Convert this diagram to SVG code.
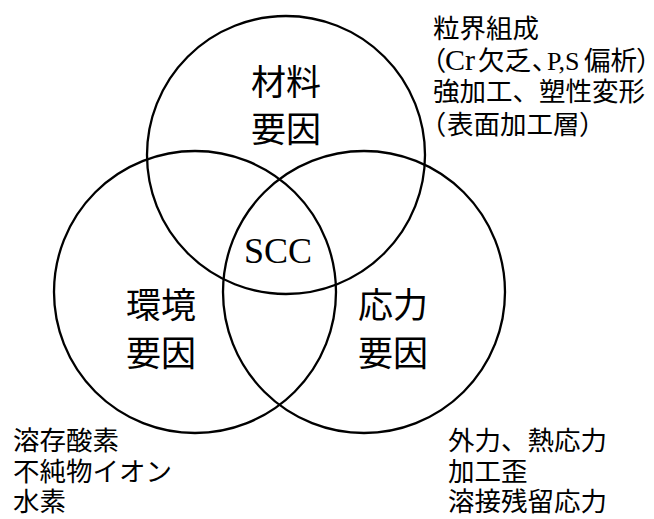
<svg xmlns="http://www.w3.org/2000/svg" width="654" height="519" viewBox="0 0 654 519">
<style>
.c{fill:none;stroke:#000;stroke-width:2.3}
.lb{font-family:"Noto Sans CJK JP","Noto Sans CJK SC",sans-serif;font-size:35px;fill:#000;text-anchor:middle}
.t{font-family:"Noto Sans CJK JP","Noto Sans CJK SC",sans-serif;font-size:26.5px;fill:#000}
.p{font-feature-settings:"palt"}
.s{font-family:"Liberation Serif",serif;fill:#000}
.scc{font-family:"Liberation Serif",serif;font-size:36px;fill:#000;text-anchor:middle}
</style>
<rect width="654" height="519" fill="#fff"/>
<g id="circles">
<circle class="c" cx="286" cy="155" r="139"/>
<circle class="c" cx="195" cy="292" r="141"/>
<circle class="c" cx="364" cy="292" r="141"/>
</g>
<g id="material">
<text class="lb" x="286" y="95">材料</text>
<text class="lb" x="286" y="142">要因</text>
</g>
<g id="environment">
<text class="lb" x="161" y="318">環境</text>
<text class="lb" x="161" y="366">要因</text>
</g>
<g id="stress">
<text class="lb" x="393" y="318">応力</text>
<text class="lb" x="393" y="366">要因</text>
</g>
<g id="scc">
<text class="scc" x="278" y="263">SCC</text>
</g>
<g id="material-notes">
<text class="t" x="433" y="38">粒界組成</text>
<text class="t" y="70"><tspan class="p" x="432">（</tspan><tspan class="s" font-size="30" x="445">Cr</tspan><tspan x="478">欠乏</tspan><tspan class="p" x="532">、</tspan><tspan class="s" font-size="26" x="547">P,S</tspan><tspan x="584">偏析</tspan><tspan class="p" x="637">）</tspan></text>
<text class="t" x="433" y="101">強加工、塑性変形</text>
<text class="t" y="134"><tspan class="p" x="432">（</tspan><tspan x="447">表面加工層</tspan><tspan class="p" x="580">）</tspan></text>
</g>
<g id="environment-notes">
<text class="t" x="13" y="450">溶存酸素</text>
<text class="t" x="13" y="481">不純物イオン</text>
<text class="t" x="13" y="511">水素</text>
</g>
<g id="stress-notes">
<text class="t" x="448" y="450">外力、熱応力</text>
<text class="t" x="448" y="481">加工歪</text>
<text class="t" x="448" y="511">溶接残留応力</text>
</g>
</svg>
